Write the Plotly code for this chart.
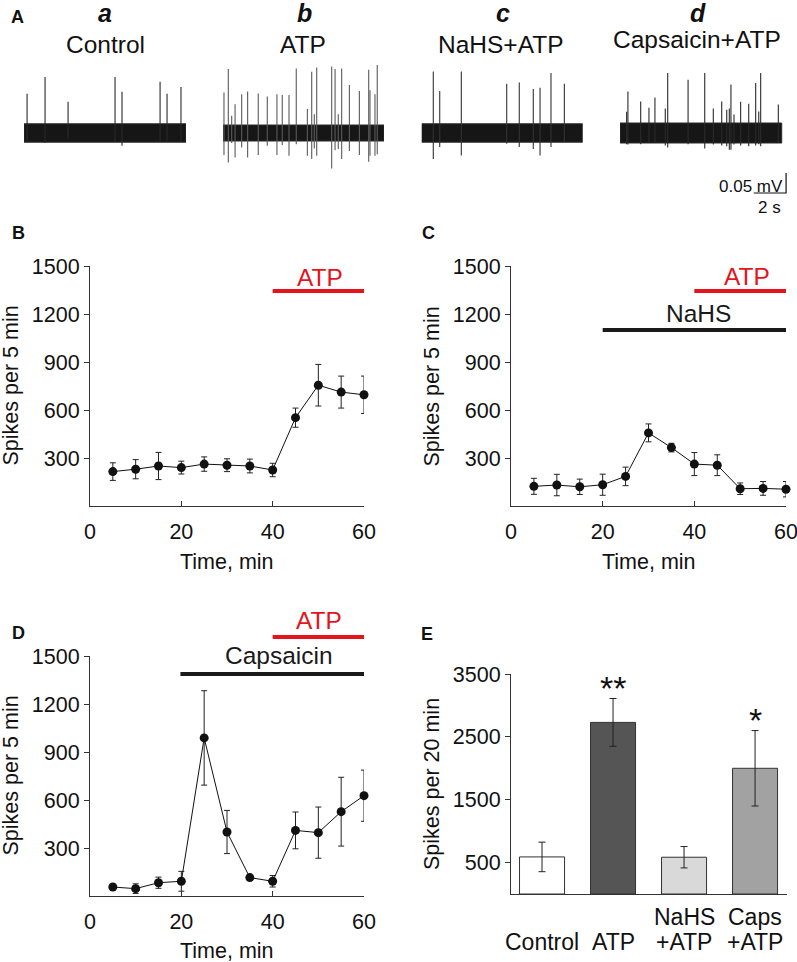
import plotly.graph_objects as go

W, H = 797, 962
FONT = "Liberation Sans, Arial, Helvetica, sans-serif"
INK = "#111111"
AXC = "#333333"
RED = "#e5141c"
BARK = "#1a1a1a"

# ---------------- data ----------------
TIME_MIN = [5, 10, 15, 20, 25, 30, 35, 40, 45, 50, 55, 60]
X_TICKS = [0, 20, 40, 60]
Y_TICKS = [300, 600, 900, 1200, 1500]
Y_MAX = 1500

# Panel B: ATP alone
B_MEAN = [215, 230, 250, 240, 262, 255, 250, 225, 552, 755, 712, 695]
B_SEM = [55, 60, 85, 40, 45, 40, 43, 42, 60, 130, 100, 117]
B_TREAT = ["ATP"]
B_START = [40]
B_END = [60]
B_LEVEL = [1344]
B_LABEL_X = [50.3]
B_LABEL_Y = [1431]

# Panel C: NaHS then ATP
C_MEAN = [123, 131, 120, 133, 185, 457, 365, 262, 255, 108, 110, 105]
C_SEM = [50, 67, 48, 66, 58, 56, 27, 72, 65, 36, 43, 48]
C_TREAT = ["NaHS", "ATP"]
C_START = [20, 40]
C_END = [60, 60]
C_LEVEL = [1100, 1344]
C_LABEL_X = [40.8, 51.4]
C_LABEL_Y = [1206, 1437]

# Panel D: Capsaicin then ATP
D_MEAN = [56, 46, 83, 92, 988, 400, 115, 92, 410, 396, 527, 627]
D_SEM = [12, 30, 35, 62, 295, 135, 12, 36, 115, 160, 215, 160]
D_TREAT = ["Capsaicin", "ATP"]
D_START = [19.8, 40]
D_END = [60, 60]
D_LEVEL = [1388, 1619]
D_LABEL_X = [41.4, 50.2]
D_LABEL_Y = [1506, 1719]

# Panel E: spikes per 20 min
E_GROUPS = ["Control", "ATP", "NaHS+ATP", "Caps+ATP"]
E_LABELS = ["Control", "ATP", "NaHS<br>+ATP", "Caps<br>+ATP"]
E_MEAN = [590, 2730, 585, 2000]
E_SEM = [235, 380, 170, 600]
E_SIG = ["", "**", "", "*"]
E_SIG_Y = [0, 3270, 0, 2770]
E_TICKS = [500, 1500, 2500, 3500]
E_MAX = 3500

# Panel A: raw recordings (time in s, amplitudes in mV)
TRACE_TITLES = ["Control", "ATP", "NaHS+ATP", "Capsaicin+ATP"]
TRACE_LETTERS = ["a", "b", "c", "d"]
TRACE_NOISE = [0.023, 0.020, 0.023, 0.025]
TRACE_LEN_S = 10

A_T = [0.19, 1.30, 2.72, 5.62, 6.05, 8.40, 8.83, 9.69]
A_UP = [0.098, 0.140, 0.078, 0.140, 0.103, 0.128, 0.098, 0.115]
A_DN = [0.020, 0.025, 0.015, 0.022, 0.032, 0.020, 0.020, 0.020]

B_T = [0.06, 0.33, 0.54, 0.75, 1.16, 1.53, 2.19, 2.75, 3.35, 3.68, 4.10, 4.55, 5.24,
       5.51, 5.67, 5.82, 6.75, 6.96, 7.16, 7.37, 7.85, 8.47, 9.05, 9.13, 9.44, 9.58]
B_UP = [0.101, 0.160, 0.043, 0.072, 0.097, 0.104, 0.099, 0.091, 0.097, 0.095, 0.095, 0.161, 0.060,
        0.153, 0.047, 0.164, 0.166, 0.160, 0.047, 0.161, 0.120, 0.105, 0.158, 0.107, 0.097, 0.170]
B_DN = [0.055, 0.074, 0.025, 0.061, 0.036, 0.061, 0.055, 0.032, 0.055, 0.030, 0.057, 0.028, 0.057,
        0.065, 0.039, 0.057, 0.089, 0.043, 0.040, 0.065, 0.045, 0.055, 0.072, 0.057, 0.057, 0.053]

C_T = [0.72, 1.12, 2.46, 5.28, 6.06, 6.93, 7.35, 8.03, 8.86]
C_UP = [0.154, 0.105, 0.154, 0.123, 0.126, 0.110, 0.113, 0.150, 0.123]
C_DN = [0.065, 0.035, 0.056, 0.027, 0.035, 0.040, 0.056, 0.035, 0.023]

D_T = [0.41, 0.49, 1.28, 1.79, 2.16, 2.80, 2.95, 4.21, 5.24, 5.77, 6.29, 6.60, 6.76, 6.86,
       7.05, 7.46, 7.96, 8.39, 8.58, 8.70, 9.79]
D_UP = [0.053, 0.104, 0.079, 0.063, 0.089, 0.061, 0.150, 0.133, 0.150, 0.061, 0.079, 0.058, 0.061,
        0.121, 0.046, 0.078, 0.073, 0.125, 0.054, 0.150, 0.071]
D_DN = [0.028, 0.029, 0.028, 0.025, 0.023, 0.031, 0.036, 0.028, 0.039, 0.029, 0.031, 0.033, 0.042,
        0.042, 0.029, 0.031, 0.033, 0.031, 0.028, 0.033, 0.025]

SCALE_S = 2
SCALE_MV = 0.05


def fx(px):
    return px / W


def fy(px):
    return 1 - px / H


fig = go.Figure()
annotations = []
shapes = []


def txt(text, x, y, xref="paper", yref="paper", size=21.5, color=INK, **kw):
    d = dict(text=text, x=x, y=y, xref=xref, yref=yref, showarrow=False,
             font=dict(family=FONT, size=size, color=color),
             xanchor=kw.pop("xanchor", "center"), yanchor=kw.pop("yanchor", "middle"))
    d.update(kw)
    annotations.append(d)


tickfont = dict(family=FONT, size=21.5, color=INK)

# ---------------- line panels B, C, D ----------------
line_panels = [
    dict(n="", mean=B_MEAN, sem=B_SEM, treat=B_TREAT, start=B_START, end=B_END, level=B_LEVEL,
         lx=B_LABEL_X, ly=B_LABEL_Y, xpx=(90, 364), ypx=(506, 266), letter="B", lpos=(18, 233),
         ytx=10.5, xty=561.5),
    dict(n="2", mean=C_MEAN, sem=C_SEM, treat=C_TREAT, start=C_START, end=C_END, level=C_LEVEL,
         lx=C_LABEL_X, ly=C_LABEL_Y, xpx=(511, 786), ypx=(506, 266), letter="C", lpos=(428, 233),
         ytx=431.5, xty=561.5),
    dict(n="3", mean=D_MEAN, sem=D_SEM, treat=D_TREAT, start=D_START, end=D_END, level=D_LEVEL,
         lx=D_LABEL_X, ly=D_LABEL_Y, xpx=(90, 364), ypx=(896, 656), letter="D", lpos=(18, 633),
         ytx=10.5, xty=950.5),
]

layout_axes = {}
for p in line_panels:
    n = p["n"]
    xid, yid = "x" + n, "y" + n
    fig.add_trace(go.Scatter(
        x=TIME_MIN, y=p["mean"], mode="lines+markers", xaxis=xid, yaxis=yid,
        line=dict(color=INK, width=1), marker=dict(size=9, color=INK),
        error_y=dict(type="data", array=p["sem"], visible=True, color="#222222",
                     thickness=1, width=3),
        cliponaxis=False, showlegend=False, hoverinfo="skip"))
    layout_axes["xaxis" + n] = dict(
        domain=[fx(p["xpx"][0]), fx(p["xpx"][1])], range=[0, 60], anchor=yid,
        tickvals=X_TICKS, ticks="inside", ticklen=5, tickcolor=AXC, tickwidth=1,
        showline=True, linecolor=AXC, linewidth=1, showgrid=False, zeroline=False,
        tickfont=tickfont, ticklabelstandoff=6, ticklabeloverflow="allow", automargin=False)
    layout_axes["yaxis" + n] = dict(
        domain=[fy(p["ypx"][0]), fy(p["ypx"][1])], range=[0, Y_MAX], anchor=xid,
        tickvals=Y_TICKS, ticks="outside", ticklen=5, tickcolor=AXC, tickwidth=1,
        showline=True, linecolor=AXC, linewidth=1, showgrid=False, zeroline=False,
        tickfont=tickfont, ticklabeloverflow="allow", automargin=False)
    for name, s, e, lv, lx, ly in zip(p["treat"], p["start"], p["end"], p["level"], p["lx"], p["ly"]):
        col = RED if name == "ATP" else BARK
        shapes.append(dict(type="line", xref=xid, yref=yid + " domain", x0=s, x1=e,
                           y0=lv / Y_MAX, y1=lv / Y_MAX, line=dict(color=col, width=4)))
        txt(name, lx, ly / Y_MAX, xref=xid, yref=yid + " domain", size=24.5, color=col)
    # axis titles
    txt("Spikes per 5 min", fx(p["ytx"]), fy((p["ypx"][0] + p["ypx"][1]) / 2), textangle=-90)
    txt("Time, min", fx((p["xpx"][0] + p["xpx"][1]) / 2), fy(p["xty"]))
    txt("<b>" + p["letter"] + "</b>", fx(p["lpos"][0]), fy(p["lpos"][1]), size=18)

# ---------------- bar panel E ----------------
E_COLORS = ["#ffffff", "#555555", "#d9d9d9", "#a2a2a2"]
fig.add_trace(go.Bar(
    x=E_GROUPS, y=E_MEAN, width=0.634, xaxis="x4", yaxis="y4",
    marker=dict(color=E_COLORS, line=dict(color="#333333", width=1)),
    error_y=dict(type="data", array=E_SEM, visible=True, color="#222222", thickness=1, width=3.5),
    showlegend=False, hoverinfo="skip"))
layout_axes["xaxis4"] = dict(
    domain=[fx(511), fx(787)], type="category", categoryorder="array", categoryarray=E_GROUPS,
    range=[-0.437, 3.45], anchor="y4", showticklabels=False, ticks="",
    showline=True, linecolor=AXC, linewidth=1, showgrid=False, zeroline=False, automargin=False)
layout_axes["yaxis4"] = dict(
    domain=[fy(894), fy(674)], range=[0, E_MAX], anchor="x4",
    tickvals=E_TICKS, ticks="outside", ticklen=5, tickcolor=AXC, tickwidth=1,
    showline=True, linecolor=AXC, linewidth=1, showgrid=False, zeroline=False,
    tickfont=tickfont, automargin=False)
for g, lab in zip(E_GROUPS, E_LABELS):
    lines = lab.split("<br>")
    for i, line in enumerate(reversed(lines)):
        txt(line, g, fy(942 - 25 * i), xref="x4", size=23)
for g, s, sy in zip(E_GROUPS, E_SIG, E_SIG_Y):
    if s:
        txt(s, g, sy, xref="x4", yref="y4", size=34)
txt("Spikes per 20 min", fx(432), fy(784), textangle=-90)
txt("<b>E</b>", fx(427), fy(633.7), size=18)

# ---------------- panel A traces ----------------
trace_sets = [(A_T, A_UP, A_DN), (B_T, B_UP, B_DN), (C_T, C_UP, C_DN), (D_T, D_UP, D_DN)]
trace_px = [(24, 186), (223, 384), (421.7, 582.7), (620, 789.8)]
trace_range = [[0, 10], [0, 10], [0, 10], [0, 10.5]]
title_pos = [(106, 44, 105, 13), (303, 44, 304, 13), (501, 44, 503, 13), (697, 39, 698, 13)]
spike_col = ["#2a2a2a", "#5a5a5a", "#333333", "#2a2a2a"]
for k, ((ts, ups, dns), (x0, x1), rng) in enumerate(zip(trace_sets, trace_px, trace_range)):
    n = str(5 + k)
    xid, yid = "x" + n, "y" + n
    h = TRACE_NOISE[k]
    fig.add_trace(go.Scatter(
        x=[0, TRACE_LEN_S, TRACE_LEN_S, 0, 0], y=[h, h, -h, -h, h], mode="lines",
        fill="toself", fillcolor="#161616", line=dict(color="#2b2b2b", width=1),
        xaxis=xid, yaxis=yid, showlegend=False, hoverinfo="skip"))
    xs, ys = [], []
    for t, u, d in zip(ts, ups, dns):
        xs += [t, t, None]
        ys += [-d, u, None]
    fig.add_trace(go.Scatter(
        x=xs, y=ys, mode="lines", line=dict(color=spike_col[k], width=1.1),
        xaxis=xid, yaxis=yid, showlegend=False, hoverinfo="skip"))
    layout_axes["xaxis" + n] = dict(domain=[fx(x0), fx(x1)], range=rng, visible=False,
                                    anchor=yid, fixedrange=True, automargin=False)
    layout_axes["yaxis" + n] = dict(domain=[fy(213), fy(53)], range=[-0.2, 0.2], visible=False,
                                    anchor=xid, fixedrange=True, automargin=False)
    tx, ty, lx, ly = title_pos[k]
    txt(TRACE_TITLES[k], fx(tx), fy(ty), size=24.5)
    txt("<b><i>" + TRACE_LETTERS[k] + "</i></b>", fx(lx), fy(ly), size=25)

# scale bar (in trace d coordinates)
SB_END_T = 10.27
SB_BOTTOM = -0.15
fig.add_trace(go.Scatter(
    x=[SB_END_T - SCALE_S, SB_END_T, SB_END_T],
    y=[SB_BOTTOM, SB_BOTTOM, SB_BOTTOM + SCALE_MV], mode="lines",
    line=dict(color=INK, width=1.2), xaxis="x8", yaxis="y8",
    showlegend=False, hoverinfo="skip", cliponaxis=False))
txt(f"{SCALE_MV} mV", SB_END_T - 0.05, SB_BOTTOM + 0.016, xref="x8", yref="y8",
    size=17, xanchor="right")
txt(f"{SCALE_S} s", SB_END_T - SCALE_S / 2, SB_BOTTOM - 0.037, xref="x8", yref="y8", size=17)
txt("<b>A</b>", fx(17.5), fy(17), size=18)

fig.update_layout(
    width=W, height=H, autosize=False,
    margin=dict(l=0, r=0, t=0, b=0, pad=0, autoexpand=False),
    paper_bgcolor="white", plot_bgcolor="white", showlegend=False,
    font=dict(family=FONT, color=INK), annotations=annotations, shapes=shapes,
    **layout_axes)

fig.write_html("out.html", config={"displayModeBar": False, "staticPlot": True},
               post_script="document.body.style.margin='0';document.body.style.overflow='hidden';")
